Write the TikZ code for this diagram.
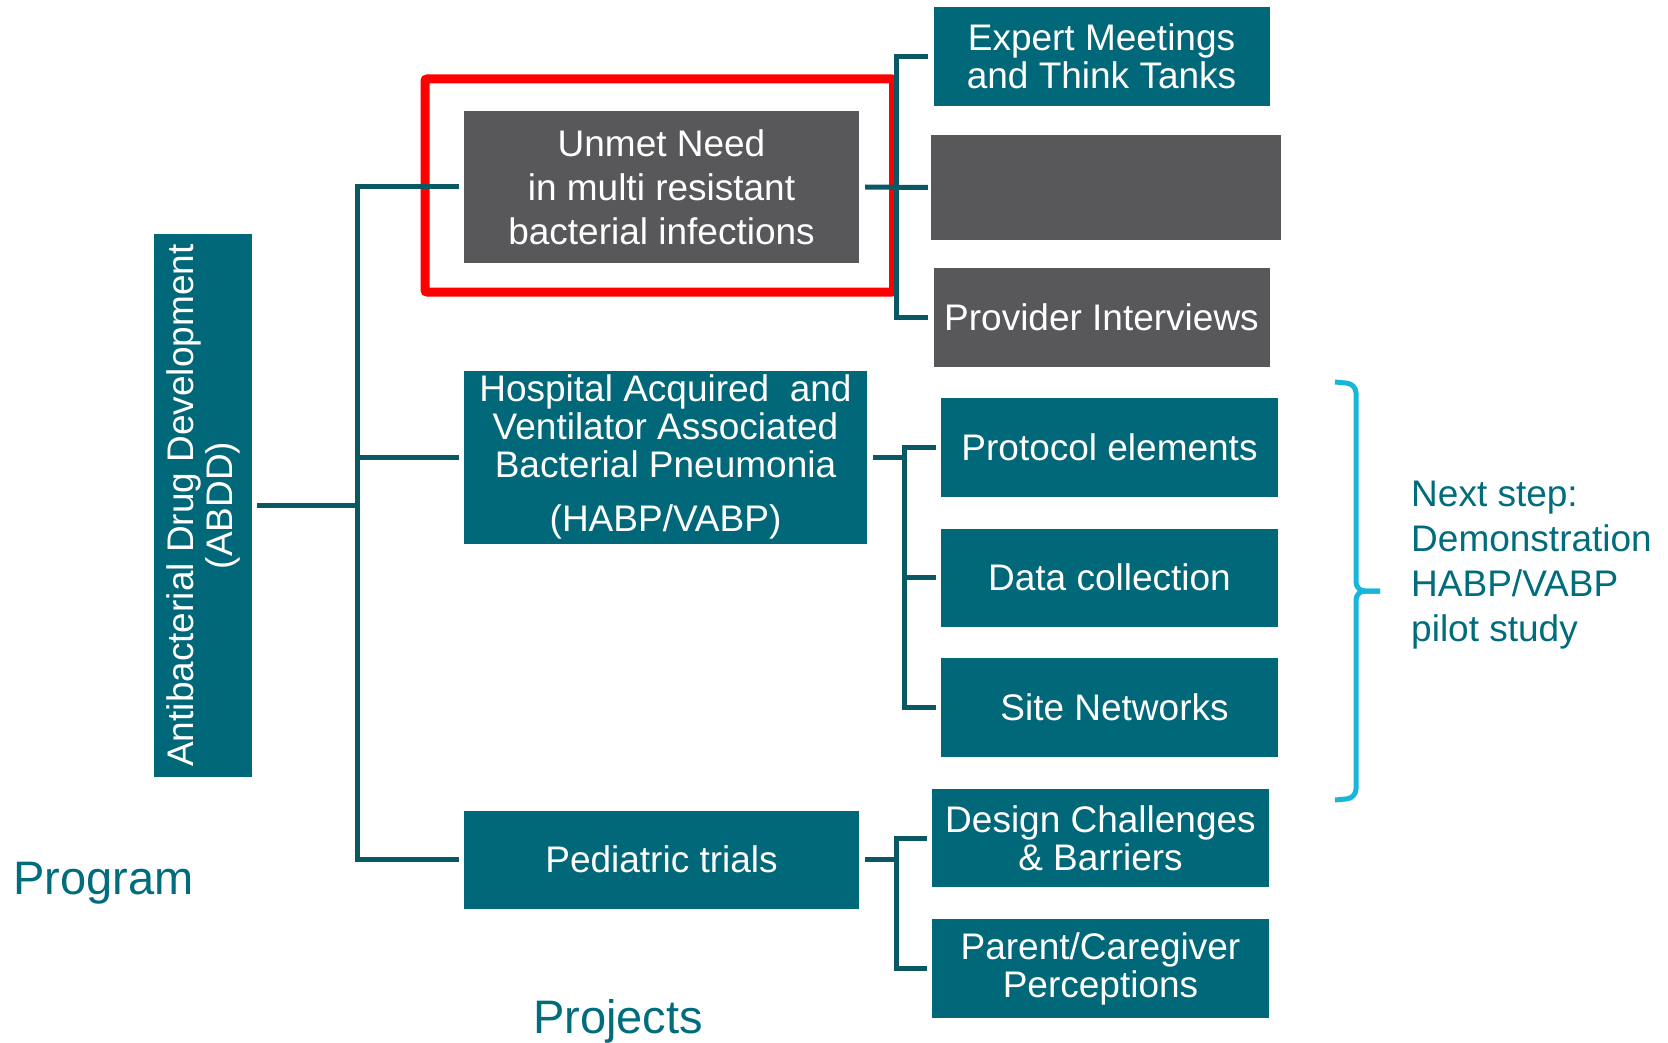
\documentclass[tikz,border=0pt]{standalone}
\usepackage{fontspec}
\setmainfont{Liberation Sans}
\definecolor{boxteal}{RGB}{1,104,121}
\definecolor{lineteal}{RGB}{10,88,100}
\definecolor{textteal}{RGB}{0,108,124}
\definecolor{boxgray}{RGB}{88,88,90}
\definecolor{hired}{RGB}{255,0,0}
\definecolor{bracecyan}{RGB}{24,182,216}
\tikzset{
  tealnode/.style={fill=boxteal, text=white, inner sep=0pt, align=center},
  graynode/.style={fill=boxgray, text=white, inner sep=0pt, align=center},
  big/.style={font=\fontsize{37}{44}\selectfont},
  tight/.style={font=\fontsize{37}{38}\selectfont},
  conn/.style={draw=lineteal, line width=5pt},
  brace/.style={draw=bracecyan, line width=5pt, rounded corners=9pt},
  label/.style={text=textteal, inner sep=0pt}
}
\begin{document}
\begin{tikzpicture}[x=1pt,y=-1pt]
\useasboundingbox (0,0) rectangle (1668,1043);

% red highlight frame
\node[draw=hired, line width=9pt, rounded corners=2pt, minimum width=468.5pt, minimum height=213pt, inner sep=0pt] (highlight) at (659.25,185.5) {};

% program box
\node[tealnode, minimum width=98pt, minimum height=543pt] (abdd) at (203,505.5) {};
\node[rotate=90, text=white, align=center, inner sep=0pt, font=\fontsize{37}{39}\selectfont] (abddtext) at (abdd.center) {Antibacterial Drug Development\\(ABDD)};

% projects
\node[graynode, big, minimum width=395pt, minimum height=151pt] (unmet) at (661.5,187) {Unmet Need\\in multi\ resistant\\bacterial infections};
\node[tealnode, tight, minimum width=403pt, minimum height=173pt] (habp) at (665.5,457) {Hospital Acquired\ \ and\\Ventilator Associated\\Bacterial Pneumonia\\[16pt](HABP/VABP)};
\node[tealnode, big, minimum width=395pt, minimum height=98pt] (ped) at (661.5,859.5) {Pediatric trials};

% sub items
\node[tealnode, tight, minimum width=336pt, minimum height=99pt] (expert) at (1101.5,56.5) {Expert Meetings\\and Think Tanks};
\node[graynode, minimum width=350pt, minimum height=105pt] (blank) at (1106,187.5) {};
\node[graynode, big, minimum width=336pt, minimum height=99pt] (provider) at (1101.5,317.5) {Provider Interviews};
\node[tealnode, big, minimum width=337pt, minimum height=99pt] (protocol) at (1109.5,447.5) {Protocol elements};
\node[tealnode, big, minimum width=337pt, minimum height=98pt] (data) at (1109.5,577.5) {Data collection};
\node[tealnode, big, minimum width=337pt, minimum height=99pt] (site) at (1109.5,707.5) {\hspace*{10pt}Site Networks};
\node[tealnode, tight, minimum width=337pt, minimum height=98pt] (design) at (1100.5,838) {Design Challenges\\\& Barriers};
\node[tealnode, tight, minimum width=337pt, minimum height=99pt] (parent) at (1100.5,968.5) {Parent/Caregiver\\Perceptions};

% trunk coordinates
\coordinate (trunk) at (357,505);
\coordinate (v1) at (896,187);
\coordinate (v2) at (904,577);
\coordinate (v3) at (896,900);

% connectors
\draw[conn] ([xshift=5pt]abdd.east) -- (abdd.east -| trunk);
\draw[conn] ([xshift=-5pt]unmet.west) -| (trunk |- ped.west) -- ([xshift=-5pt]ped.west);
\draw[conn] ([xshift=-5pt]habp.west) -- (habp.west -| trunk);

\draw[conn] ([xshift=-5pt]expert.west) -| (v1 |- provider.west) -- ([xshift=-5pt]provider.west);
\draw[conn] ([xshift=6pt]unmet.east) -- ([xshift=-3pt]blank.west);

\draw[conn] ([xshift=-5pt]protocol.west) -| (v2 |- site.west) -- ([xshift=-5pt]site.west);
\draw[conn] ([xshift=-5pt]data.west) -- (data.west -| v2);
\draw[conn] ([xshift=6pt]habp.east) -- (habp.east -| v2);

\draw[conn] ([xshift=-5pt]design.west) -| (v3 |- parent.west) -- ([xshift=-5pt]parent.west);
\draw[conn] ([xshift=6pt]ped.east) -- (ped.east -| v3);

% cyan brace
\coordinate (bracetip) at (1380,591);
\draw[brace] (1335,382) -- (1356,384) -- (1356,591) -- (bracetip);
\draw[brace] (1335,800) -- (1356,798) -- (1356,591) -- (bracetip);

% labels
\node[label, anchor=north west, align=left, font=\fontsize{37}{45}\selectfont] (nextstep) at (1411,481) {Next step:\\Demonstration\\HABP/VABP\\pilot study};
\node[label, anchor=base west, font=\fontsize{47}{50}\selectfont] (program) at (13,894) {Program};
\node[label, anchor=base, font=\fontsize{47}{50}\selectfont] (projects) at (618,1033) {Projects};
\end{tikzpicture}
\end{document}
